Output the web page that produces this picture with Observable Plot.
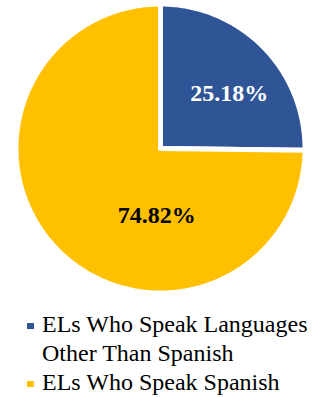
<!DOCTYPE html>
<html>
<head>
<meta charset="utf-8">
<script src="https://cdn.jsdelivr.net/npm/d3@7"></script>
<script src="https://cdn.jsdelivr.net/npm/@observablehq/plot@0.6"></script>
<style>
  body { margin: 0; background: #fff; }
  #chart { width: 315px; }
  .legend { margin-top: 10.4px; padding-left: 42px; font-family: "Liberation Serif", "Times New Roman", serif; font-size: 24px; line-height: 29px; color: #000; }
  .item { position: relative; white-space: nowrap; }
  .sw { position: absolute; left: -15px; top: 12.6px; width: 6.5px; height: 6.5px; }
</style>
</head>
<body>
<div id="chart"></div>
<script>
const categories = ["ELs Who Speak Languages Other Than Spanish", "ELs Who Speak Spanish"];
const legendLines = [["ELs Who Speak Languages", "Other Than Spanish"], ["ELs Who Speak Spanish"]];
const values = [25.18, 74.82];
const labels = ["25.18%", "74.82%"];
const colors = ["#2F5597", "#FFC000"];
const labelColors = ["#ffffff", "#000000"];

const arcs = d3.pie().sort(null).value(d => d)(values);

// polygon outlines of each slice, derived from the data via d3.pie
const poly = [];
arcs.forEach((a, i) => {
  poly.push({slice: categories[i], x: 0, y: 0});
  const n = Math.max(2, Math.ceil((a.endAngle - a.startAngle) / (Math.PI * 2) * 400));
  for (let k = 0; k <= n; k++) {
    const t = a.startAngle + (a.endAngle - a.startAngle) * k / n;
    poly.push({slice: categories[i], x: Math.sin(t), y: Math.cos(t)});
  }
  poly.push({slice: categories[i], x: 0, y: 0});
});

const labelData = arcs.map((a, i) => {
  const m = (a.startAngle + a.endAngle) / 2;
  return {slice: categories[i], label: labels[i], x: 0.6 * Math.sin(m), y: 0.6 * Math.cos(m), color: labelColors[i]};
});

const plot = Plot.plot({
  width: 315,
  height: 300,
  marginLeft: 15.5,
  marginRight: 10.5,
  marginTop: 3.5,
  marginBottom: 7.5,
  x: {domain: [-1, 1], axis: null},
  y: {domain: [-1, 1], axis: null},
  color: {domain: categories, range: colors},
  marks: [
    Plot.line(poly, {x: "x", y: "y", z: "slice", fill: "slice", stroke: "white", strokeWidth: 5, strokeLinejoin: "miter", curve: "linear"}),
    Plot.text(labelData.filter(d => d.slice === categories[0]), {x: "x", y: "y", text: "label", fill: "color", dx: 7, dy: 6, fontSize: 24, fontWeight: "bold", fontFamily: "Liberation Serif"}),
    Plot.text(labelData.filter(d => d.slice === categories[1]), {x: "x", y: "y", text: "label", fill: "color", dx: 58, dy: 6, fontSize: 24, fontWeight: "bold", fontFamily: "Liberation Serif"})
  ]
});
document.getElementById("chart").appendChild(plot);

const legend = document.createElement("div");
legend.className = "legend";
categories.forEach((c, i) => {
  const item = document.createElement("div");
  item.className = "item";
  const sw = document.createElement("span");
  sw.className = "sw";
  sw.style.background = colors[i];
  item.appendChild(sw);
  legendLines[i].forEach(line => {
    const l = document.createElement("div");
    l.textContent = line;
    item.appendChild(l);
  });
  legend.appendChild(item);
});
document.getElementById("chart").appendChild(legend);
</script>
</body>
</html>
